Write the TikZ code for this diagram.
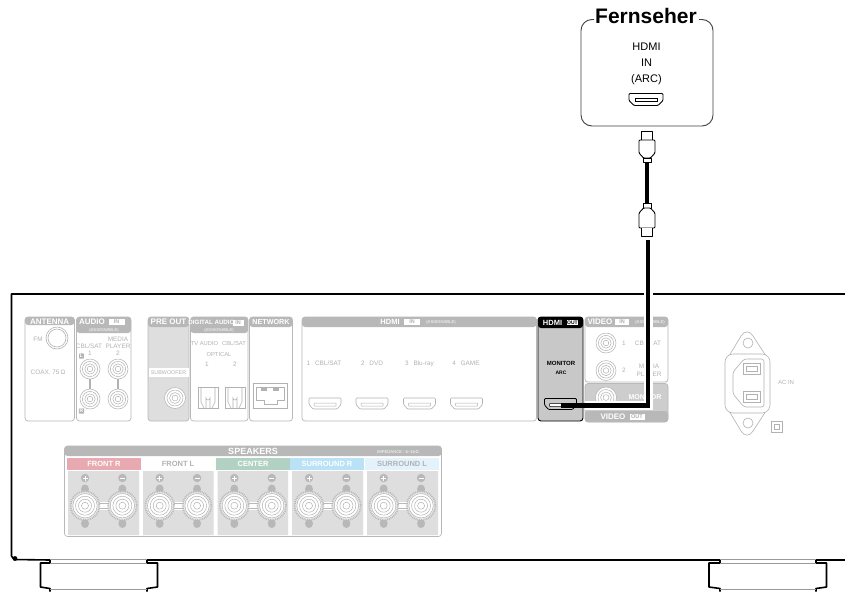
\documentclass[tikz,border=0pt]{standalone}
\usepackage{fontspec}
\setmainfont{Liberation Sans}
\definecolor{pg}{HTML}{B8B8B8}
\definecolor{tg}{HTML}{B2B2B2}
\definecolor{hatch}{HTML}{DEDEDE}
\definecolor{portg}{HTML}{C8C8C8}
\definecolor{spkpink}{HTML}{E8A9B0}
\definecolor{spkgreen}{HTML}{B1D2C3}
\definecolor{spkblue}{HTML}{B9E2F6}
\definecolor{spkpale}{HTML}{E3F2FB}
\newcommand{\fsz}[1]{\fontsize{#1}{#1}\selectfont}
% panel: x1,x2,ytop,ybottom,yheader,fill,border
\newcommand{\panelbox}[7]{%
  \draw[line width=.7pt,draw=#7,fill=#6,rounded corners=3pt] (#1,#3) rectangle (#2,#4);
  \fill[#7,rounded corners=3pt] (#1,#5) -- (#1,#3) -- (#2,#3) -- (#2,#5) -- cycle;}
\newcommand{\rcajack}[3]{%
  \foreach \q in {1,.76,.52,.28}{\draw[tg,line width=.5pt,fill=white] (#1,#2) circle ({#3*\q});}}
\newcommand{\hdmiport}[5]{% cx cy colour fill linewidth
  \begin{scope}[shift={(#1,#2)}]
  \draw[#3,line width=#5,fill=#4,rounded corners=1pt] (-16,-5.5) -- (16,-5.5) -- (16,1) -- (12,5.5) -- (-12,5.5) -- (-16,1) -- cycle;
  \draw[#3,line width=.5pt,fill=white,rounded corners=.5pt] (-11,-.5) rectangle (11,2.5);
  \end{scope}}
\newcommand{\badge}[4]{% x y w text
  \node[badgebox,minimum width=#3pt] at (#1,#2) {#4};}
\newcommand{\optport}[1]{%
  \draw[tg,line width=.6pt] (#1,387) rectangle (#1+20,408);
  \draw[tg,line width=.6pt] (#1+3,388) -- (#1+3,402) -- (#1+6,408) (#1+17,388) -- (#1+17,402) -- (#1+14,408);
  \draw[tg,line width=.6pt] (#1+8,408) -- (#1+8,398) arc (180:0:2) -- (#1+12,408);}
\newcommand{\spkunit}[1]{%
  \begin{scope}[shift={(#1,0)}]
  \foreach \xx in {85,122.4}{
    \fill[pg] (\xx,489) ellipse (4 and 4.5);
    \fill[pg] (\xx,523.5) ellipse (4 and 4.5);
    \fill[pg] (\xx,478) circle (4.2);
    \draw[white,line width=1pt] (\xx-2.5,478) -- (\xx+2.5,478);
  }
  \draw[white,line width=1pt] (85,475.5) -- (85,480.5);
  \fill[white] (98,502) rectangle (110,510);
  \draw[pg,line width=1pt] (98,503) -- (110,503) (98,508.4) -- (110,508.4);
  \foreach \xx in {85,122.4}{
    \draw[pg,line width=1.8pt,fill=hatch!60,dash pattern=on .9pt off .9pt] (\xx,505.7) circle (14.3);
    \foreach \q in {12.2,9.5,6.5,3.5}{\draw[tg,line width=.5pt,fill=white] (\xx,505.7) circle (\q);}
  }
  \end{scope}}
\colorlet{tvgrey}{black!40}
\tikzset{
  hdr/.style={text=white,font=\bfseries\fsz{8},inner sep=0pt},
  hdrsm/.style={text=white,font=\fsz{4.2},inner sep=0pt},
  lbl/.style={text=tg,font=\fsz{6.4},inner sep=0pt,align=center},
  lblb/.style={text=tg,font=\bfseries\fsz{6},inner sep=0pt},
  badgebox/.style={fill=white,text=tg,font=\bfseries\fsz{5.5},inner sep=0pt,minimum height=6pt},
  devline/.style={black,line width=1.6pt},
  footgrey/.style={draw=tvgrey,line width=.9pt},
  tvtxt/.style={font=\fsz{11},inner sep=0pt},
  plug/.style={draw=black,line width=.9pt,fill=white,line join=round},
}
\begin{document}
\begin{tikzpicture}[x=1pt,y=-1pt]
\useasboundingbox (0,0) rectangle (845,592);
\fill[white] (0,0) rectangle (845,592);

% ---------- device body
\draw[devline,line join=round] (845,294) -- (11.5,294) -- (11.5,556) -- (14,559.5) -- (50,560);
\fill[black] (15,558.5) circle (2.4);
\draw[devline] (816,560) -- (845,560);
\draw[devline] (147,560) -- (720,560);
\fill[white] (159,561) rectangle (707,562);
% feet
\draw[devline,line join=round] (50,560) -- (50,563) -- (40.5,563) -- (40.5,587) -- (50,588.5) -- (50,591.5);
\draw[devline,line join=round] (147,560) -- (147,563) -- (157.5,563) -- (157.5,587) -- (147,588.5) -- (147,591.5);
\draw[footgrey] (50,559.8) -- (147,559.8) (50,563) -- (147,563) (50,589.5) -- (147,589.5);
\draw[devline,line join=round] (720,560) -- (720,563) -- (709,563) -- (709,587) -- (720,588.5) -- (720,591.5);
\draw[devline,line join=round] (816,560) -- (816,563) -- (826.5,563) -- (826.5,587) -- (816,588.5) -- (816,591.5);
\draw[footgrey] (720,559.8) -- (816,559.8) (720,563) -- (816,563) (720,589.5) -- (816,589.5);

% ---------- ANTENNA
\panelbox{25}{74.5}{317}{421}{325}{white}{pg}
\node[hdr] at (49.7,321.3) {ANTENNA};
\node[lbl] at (38,339) {FM};
\draw[tg,line width=.6pt] (57,338) circle (11) (57,338) circle (9);
\node[lbl] at (48,372.5) {COAX. 75\,Ω};

% ---------- AUDIO IN
\panelbox{76.5}{131}{317}{421}{333}{white}{pg}
\node[hdr] at (92,322) {AUDIO};
\badge{116.5}{322}{16}{IN}
\node[hdrsm] at (104,330) {(ASSIGNABLE)};
\node[lbl] at (89,346) {CBL/SAT};
\node[lbl] at (90,353.5) {1};
\node[lbl] at (118,339.5) {MEDIA};
\node[lbl] at (118,346) {PLAYER};
\node[lbl] at (118,353.5) {2};
\foreach \xx in {90,118}{
  \draw[tg,line width=1.5pt] (\xx,375) -- (\xx,392);
  \rcajack{\xx}{369}{10}
  \rcajack{\xx}{399}{10}
}
\node[fill=tg,text=white,font=\bfseries\fsz{5},inner sep=.8pt,rounded corners=.6pt] at (81.5,356) {L};
\node[fill=tg,text=white,font=\bfseries\fsz{5},inner sep=.8pt,rounded corners=.6pt] at (81.5,411) {R};

% ---------- PRE OUT
\panelbox{148}{189}{317}{421}{327}{hatch}{pg}
\node[hdr] at (168.5,322) {PRE OUT};
\fill[white] (148.5,368) rectangle (188.5,377);
\node[lbl,font=\fsz{5.4}] at (168.5,372.5) {SUBWOOFER};
\rcajack{175}{398}{10.5}

% ---------- DIGITAL AUDIO IN
\panelbox{190.5}{248}{317}{421}{333}{white}{pg}
\node[hdr,font=\bfseries\fsz{6.2}] at (211.5,322.5) {DIGITAL AUDIO};
\badge{238}{322.5}{11}{IN}
\node[hdrsm] at (219,330) {(ASSIGNABLE)};
\node[lbl,font=\fsz{5.8}] at (204.5,343) {TV AUDIO};
\node[lbl,font=\fsz{5.8}] at (234,343) {CBL/SAT};
\node[lbl,font=\fsz{5.8}] at (219,354) {OPTICAL};
\node[lbl] at (207,364) {1};
\node[lbl] at (235,364) {2};
\optport{198}
\optport{225}

% ---------- NETWORK
\panelbox{249.5}{292.5}{317}{421}{327}{white}{pg}
\node[hdr,font=\bfseries\fsz{7.2}] at (271,322) {NETWORK};
\draw[tg,line width=.6pt] (253.5,383.5) rectangle (287,408);
\draw[tg,line width=.6pt] (256.5,387) -- (284,387) -- (284,400) -- (277,400) -- (277,404) -- (264,404) -- (264,400) -- (256.5,400) -- cycle;
\fill[tg] (261,387.5) rectangle (279,391);
\fill[white] (267,387.8) rectangle (273,390.5);

% ---------- HDMI IN
\panelbox{302}{536.5}{317}{421}{327}{white}{pg}
\node[hdr,font=\bfseries\fsz{7.5}] at (390,322) {HDMI};
\badge{412}{322}{16}{IN}
\node[hdrsm] at (441,322) {(ASSIGNABLE)};
\node[lbl] at (324,363.5) {1\hspace{3pt} CBL/SAT};
\node[lbl] at (372,363.5) {2\hspace{3pt} DVD};
\node[lbl] at (419.5,363.5) {3\hspace{3pt} Blu-ray};
\node[lbl] at (466,363.5) {4\hspace{3pt} GAME};
\foreach \xx in {325,372,419.5,466.5}{\hdmiport{\xx}{403.5}{tg}{white}{.6pt}}

% ---------- VIDEO IN
\panelbox{585}{668}{317}{382}{327}{white}{pg}
\node[hdr] at (600,322) {VIDEO};
\badge{622}{322}{14}{IN}
\node[hdrsm] at (650,322) {(ASSIGNABLE)};
\rcajack{606}{343}{10}
\rcajack{606}{370.5}{10}
\node[lbl] at (624,343) {1};
\node[lbl] at (648,343) {CBL/SAT};
\node[lbl] at (624,370) {2};
\node[lbl] at (649,366) {MEDIA};
\node[lbl] at (649,374) {PLAYER};

% ---------- VIDEO OUT
\panelbox{585}{668}{383.5}{422}{383.5}{pg!70}{pg}
\fill[pg,rounded corners=3pt] (585,411) rectangle (668,422);
\rcajack{606}{397.5}{10.5}
\node[hdr,font=\bfseries\fsz{7}] at (645,397) {MONITOR};
\node[hdr] at (613,417) {VIDEO};
\badge{637}{417}{15}{OUT}

% ---------- HDMI OUT
\draw[black,line width=.9pt,fill=portg,rounded corners=3pt] (538,317) rectangle (583,421);
\fill[black,rounded corners=3pt] (538,328) -- (538,317) -- (583,317) -- (583,328) -- cycle;
\node[hdr,font=\bfseries\fsz{7.5}] at (552.5,322.5) {HDMI};
\node[fill=white,text=black,font=\bfseries\fsz{5},inner sep=.5pt] at (572.5,322.5) {OUT};
\node[font=\bfseries\fsz{6},inner sep=0pt] at (561,363.5) {MONITOR};
\node[font=\bfseries\fsz{5},inner sep=0pt] at (561,373) {ARC};
\hdmiport{560.5}{404}{black}{portg}{.8pt}
\coordinate (outport) at (561,405.5);
\coordinate (haloend) at (584.5,405.5);

% ---------- AC IN
\draw[tg,line width=.6pt] (729,356) -- (741,336) .. controls (744,330.5) and (750,330.5) .. (753,336) -- (766,356);
\draw[tg,line width=.6pt] (729,411) -- (741,431) .. controls (744,436.5) and (750,436.5) .. (753,431) -- (766,411);
\draw[tg,line width=.6pt] (748,343) circle (5) (748,423) circle (5);
\draw[tg,line width=.6pt,fill=white,rounded corners=8pt] (725,354) rectangle (770,413);
\draw[tg,line width=.6pt,rounded corners=2.5pt] (744,359) -- (764,359) -- (764,407) -- (744,407) -- (733,394) -- (733,372) -- cycle;
\foreach \yy in {363,391}{
  \draw[tg,line width=.6pt] (743,\yy) rectangle (760,\yy+11);
  \draw[tg,line width=.5pt] (746,\yy+3) rectangle (757,\yy+8);
}
\node[lbl,font=\fsz{6}] at (786,382.5) {AC IN};
\draw[tg,line width=.6pt] (771,421) rectangle (782,432) (774,424) rectangle (779,429);

% ---------- SPEAKERS
\panelbox{64.5}{441.5}{446}{536.5}{456}{white}{pg}
\node[hdr,font=\bfseries\fsz{9}] at (253,451.5) {SPEAKERS};
\node[hdrsm] at (398,452) {IMPEDANCE : 6\textasciitilde 16\,Ω};
\fill[hatch] (68,471) rectangle (139,535) (143,471) rectangle (213.5,535) (217.5,471) rectangle (288,535) (292,471) rectangle (363,535) (367,471) rectangle (438,535);
\fill[spkpink] (67,458) rectangle (141,470);
\fill[spkgreen] (216,458) rectangle (290,470);
\fill[spkblue] (290,458) rectangle (364,470);
\fill[spkpale] (365,458) rectangle (439,470);
\node[hdr,font=\bfseries\fsz{7.5}] at (104,464) {FRONT R};
\node[lblb,font=\bfseries\fsz{7.5}] at (178,464) {FRONT L};
\node[hdr,font=\bfseries\fsz{7.5}] at (253,464) {CENTER};
\node[hdr,font=\bfseries\fsz{7.5}] at (327,464) {SURROUND R};
\node[lblb,font=\bfseries\fsz{7.5}] at (402,464) {SURROUND L};
\foreach \s in {0,74.67,149.33,224,298.67}{\spkunit{\s}}

% ---------- TV
\node[font=\bfseries\fsz{21},inner sep=0pt] (tvtitle) at (646,15.5) {Fernseher};
\draw[black!75,line width=.9pt,rounded corners=11pt] (594,19.5) -- (581,19.5) -- (581,126) -- (713,126) -- (713,19.5) -- (699,19.5);
\node[tvtxt] (tvA) at (646.5,47) {HDMI};
\node[tvtxt] (tvB) at (646.5,63) {IN};
\node[tvtxt] (tvC) at (646.5,80) {(ARC)};
\begin{scope}[shift={(646,99.5)}]
\draw[black,line width=.9pt,fill=white,rounded corners=1pt] (-17,-6) -- (17,-6) -- (17,1) -- (12,6) -- (-12,6) -- (-17,1) -- cycle;
\draw[black,line width=.7pt] (-11,-1) rectangle (11,1.5);
\end{scope}

% ---------- Cable
\coordinate (plugA) at (647,161);
\coordinate (plugB) at (647,204);
\coordinate (cablestart) at (648,240);
\coordinate (cablecorner) at (648,405.5);
\draw[white,line width=9pt] (cablestart) -- (cablecorner) -- (haloend);
\draw[black,line width=4.5pt,line join=miter] (cablestart) -- (cablecorner) -- (outport);
\draw[black,line width=4.5pt] (plugA) -- (plugB);
% upper plug
\draw[plug] (641.5,140) -- (641.5,131) -- (652.5,131) -- (652.5,140);
\draw[plug,rounded corners=1pt] (639,140) -- (655,140) -- (655,153) -- (650.5,158) -- (643.5,158) -- (639,153) -- cycle;
\draw[plug] (643,158) rectangle (651,162);
% lower plug
\draw[plug] (643,203.5) rectangle (651,208);
\draw[plug,rounded corners=1pt] (643.5,208) -- (650.5,208) -- (655,213) -- (655,228) -- (639,228) -- (639,213) -- cycle;
\draw[plug] (641.5,228) -- (641.5,236) -- (652.5,236) -- (652.5,228);
\end{tikzpicture}
\end{document}
